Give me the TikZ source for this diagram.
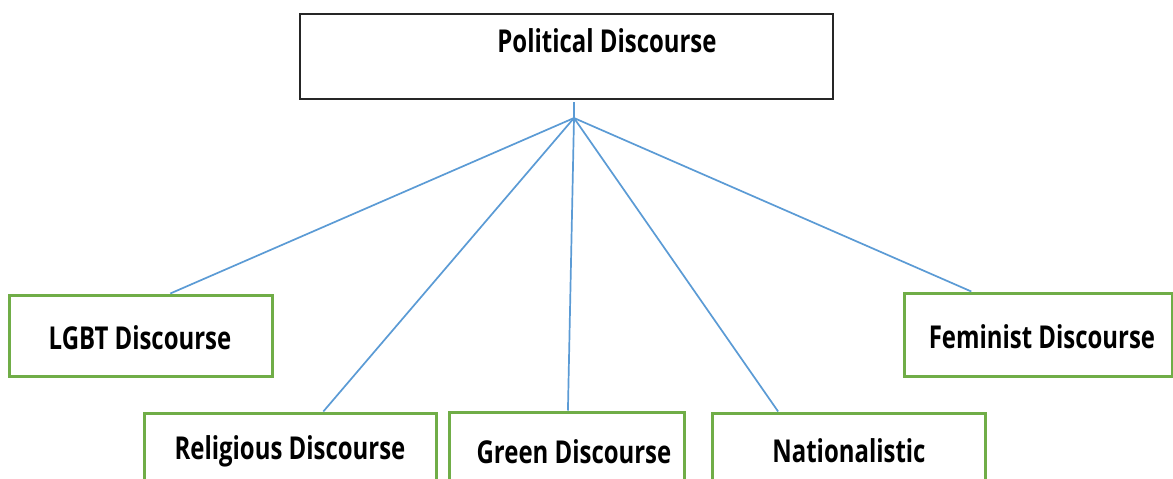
\documentclass[tikz,border=0pt]{standalone}
\usepackage{fontspec}
\setmainfont{Open Sans}
\newfontfamily\cond[FakeStretch=0.76]{Open Sans}
\usetikzlibrary{calc}
\definecolor{boxgreen}{HTML}{70AD47}
\definecolor{linkblue}{HTML}{5B9BD5}
\tikzset{
  topbox/.style={draw=black!85, line width=1.3pt, inner sep=0pt},
  subbox/.style={draw=boxgreen, line width=3pt, inner sep=0pt},
  lbl/.style={font=\cond\bfseries\fontsize{31.5}{34}\selectfont, text=black, inner sep=0pt},
  link/.style={draw=linkblue, line width=1.7pt}
}
\begin{document}
\begin{tikzpicture}[x=1pt,y=-1pt]
\useasboundingbox (0,0) rectangle (1173,479);
\clip (0,0) rectangle (1173,479);
\fill[white] (0,0) rectangle (1173,479);
% top box
\node[topbox, minimum width=533pt, minimum height=85pt] (pol) at (566.5,56.5) {};
\node[lbl] (poltext) at (607,41) {Political Discourse};
% sub boxes
\node[subbox, minimum width=263pt, minimum height=81pt] (lgbt) at (140.5,335.5) {};
\node[lbl] (lgbttext) at (140,338) {LGBT Discourse};
\node[subbox, minimum width=268pt, minimum height=83pt] (fem) at (1038,334.5) {};
\node[lbl] (femtext) at (1042,337) {Feminist Discourse};
\node[subbox, minimum width=292pt, minimum height=90pt] (rel) at (290,458) {};
\node[lbl] (reltext) at (290,451) {Religious Discourse};
\node[subbox, minimum width=235pt, minimum height=90pt] (green) at (566.5,457) {};
\node[lbl] (greentext) at (574,452) {Green Discourse};
\node[subbox, minimum width=273pt, minimum height=90pt] (nat) at (848.5,458) {};
\node[lbl] (nattext) at (849,451) {Nationalistic};
% junction
\coordinate (top) at (574,102);
\coordinate (j) at (574,118);
\draw[link] (top) -- (j);
\draw[link] (j) -- ($(lgbt.north west)!0.612!(lgbt.north east)$);
\draw[link] (j) -- ($(rel.north west)!0.613!(rel.north east)$);
\draw[link] (j) -- ($(green.north west)!0.506!(green.north east)$);
\draw[link] (j) -- ($(nat.north west)!0.245!(nat.north east)$);
\draw[link] (j) -- ($(fem.north west)!0.254!(fem.north east)$);
\end{tikzpicture}
\end{document}
